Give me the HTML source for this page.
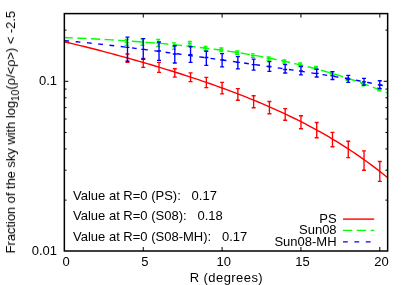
<!DOCTYPE html>
<html><head><meta charset="utf-8"><style>
html,body{margin:0;padding:0;background:#fff;}
svg{display:block;}
</style></head><body>
<svg width="407" height="285" viewBox="0 0 407 285">
<rect width="407" height="285" fill="#fff"/>
<path d="M127.48,54.00V62.40M125.48,54.00h4.0M125.48,62.40h4.0" stroke="#ff0000" stroke-width="1.35" fill="none"/>
<path d="M143.25,58.50V67.30M141.25,58.50h4.0M141.25,67.30h4.0" stroke="#ff0000" stroke-width="1.35" fill="none"/>
<path d="M159.02,62.30V72.30M157.02,62.30h4.0M157.02,72.30h4.0" stroke="#ff0000" stroke-width="1.35" fill="none"/>
<path d="M174.79,68.70V77.10M172.79,68.70h4.0M172.79,77.10h4.0" stroke="#ff0000" stroke-width="1.35" fill="none"/>
<path d="M190.56,72.80V81.60M188.56,72.80h4.0M188.56,81.60h4.0" stroke="#ff0000" stroke-width="1.35" fill="none"/>
<path d="M206.33,77.40V87.60M204.33,77.40h4.0M204.33,87.60h4.0" stroke="#ff0000" stroke-width="1.35" fill="none"/>
<path d="M222.10,82.40V93.80M220.10,82.40h4.0M220.10,93.80h4.0" stroke="#ff0000" stroke-width="1.35" fill="none"/>
<path d="M237.87,88.55V100.25M235.87,88.55h4.0M235.87,100.25h4.0" stroke="#ff0000" stroke-width="1.35" fill="none"/>
<path d="M253.64,95.70V107.70M251.64,95.70h4.0M251.64,107.70h4.0" stroke="#ff0000" stroke-width="1.35" fill="none"/>
<path d="M269.41,101.50V113.70M267.41,101.50h4.0M267.41,113.70h4.0" stroke="#ff0000" stroke-width="1.35" fill="none"/>
<path d="M285.18,108.60V120.20M283.18,108.60h4.0M283.18,120.20h4.0" stroke="#ff0000" stroke-width="1.35" fill="none"/>
<path d="M300.95,115.70V128.70M298.95,115.70h4.0M298.95,128.70h4.0" stroke="#ff0000" stroke-width="1.35" fill="none"/>
<path d="M316.72,122.50V137.70M314.72,122.50h4.0M314.72,137.70h4.0" stroke="#ff0000" stroke-width="1.35" fill="none"/>
<path d="M332.49,132.30V146.70M330.49,132.30h4.0M330.49,146.70h4.0" stroke="#ff0000" stroke-width="1.35" fill="none"/>
<path d="M348.26,141.20V157.60M346.26,141.20h4.0M346.26,157.60h4.0" stroke="#ff0000" stroke-width="1.35" fill="none"/>
<path d="M364.03,150.80V170.20M362.03,150.80h4.0M362.03,170.20h4.0" stroke="#ff0000" stroke-width="1.35" fill="none"/>
<path d="M379.80,161.50V181.30M377.80,161.50h4.0M377.80,181.30h4.0" stroke="#ff0000" stroke-width="1.35" fill="none"/>
<path d="M64.40,41.80 L68.34,42.72 L72.29,43.66 L76.23,44.60 L80.17,45.56 L84.11,46.54 L88.06,47.52 L92.00,48.52 L95.94,49.52 L99.88,50.54 L103.83,51.57 L107.77,52.62 L111.71,53.67 L115.65,54.73 L119.59,55.81 L123.54,56.89 L127.48,57.99 L131.42,59.10 L135.37,60.21 L139.31,61.34 L143.25,62.48 L147.19,63.63 L151.13,64.79 L155.08,65.97 L159.02,67.15 L162.96,68.35 L166.91,69.56 L170.85,70.78 L174.79,72.02 L178.73,73.26 L182.68,74.53 L186.62,75.80 L190.56,77.09 L194.50,78.39 L198.44,79.71 L202.39,81.05 L206.33,82.40 L210.27,83.77 L214.22,85.16 L218.16,86.56 L222.10,87.99 L226.04,89.43 L229.99,90.89 L233.93,92.38 L237.87,93.88 L241.81,95.41 L245.75,96.97 L249.70,98.54 L253.64,100.14 L257.58,101.77 L261.52,103.43 L265.47,105.11 L269.41,106.82 L273.35,108.56 L277.29,110.33 L281.24,112.14 L285.18,113.98 L289.12,115.85 L293.06,117.75 L297.01,119.70 L300.95,121.68 L304.89,123.70 L308.84,125.76 L312.78,127.87 L316.72,130.01 L320.66,132.20 L324.61,134.44 L328.55,136.72 L332.49,139.05 L336.43,141.44 L340.38,143.87 L344.32,146.36 L348.26,148.90 L352.20,151.50 L356.14,154.15 L360.09,156.87 L364.03,159.64 L367.97,162.48 L371.91,165.38 L375.86,168.35 L379.80,171.39 L383.74,174.50 L387.68,177.68" stroke="#ff0000" stroke-width="1.4" fill="none"/>
<path d="M126.68,39.50V45.50M124.68,39.50h4.0M124.68,45.50h4.0M124.68,42.50h4.0" stroke="#00ff00" stroke-width="1.35" fill="none"/>
<path d="M142.45,38.90V45.20M140.45,38.90h4.0M140.45,45.20h4.0M140.45,42.05h4.0" stroke="#00ff00" stroke-width="1.35" fill="none"/>
<path d="M158.22,39.50V46.50M156.22,39.50h4.0M156.22,46.50h4.0M156.22,43.00h4.0" stroke="#00ff00" stroke-width="1.35" fill="none"/>
<path d="M173.99,42.90V49.40M171.99,42.90h4.0M171.99,49.40h4.0M171.99,46.15h4.0" stroke="#00ff00" stroke-width="1.35" fill="none"/>
<path d="M189.76,41.30V45.20M187.76,41.30h4.0M187.76,45.20h4.0M187.76,43.25h4.0" stroke="#00ff00" stroke-width="1.35" fill="none"/>
<path d="M205.53,46.50V50.50M203.53,46.50h4.0M203.53,50.50h4.0M203.53,48.50h4.0" stroke="#00ff00" stroke-width="1.35" fill="none"/>
<path d="M221.30,48.00V51.50M219.30,48.00h4.0M219.30,51.50h4.0M219.30,49.75h4.0" stroke="#00ff00" stroke-width="1.35" fill="none"/>
<path d="M237.07,51.00V54.50M235.07,51.00h4.0M235.07,54.50h4.0M235.07,52.75h4.0" stroke="#00ff00" stroke-width="1.35" fill="none"/>
<path d="M252.84,53.90V57.40M250.84,53.90h4.0M250.84,57.40h4.0M250.84,55.65h4.0" stroke="#00ff00" stroke-width="1.35" fill="none"/>
<path d="M268.61,57.00V60.30M266.61,57.00h4.0M266.61,60.30h4.0M266.61,58.65h4.0" stroke="#00ff00" stroke-width="1.35" fill="none"/>
<path d="M284.38,60.00V63.20M282.38,60.00h4.0M282.38,63.20h4.0M282.38,61.60h4.0" stroke="#00ff00" stroke-width="1.35" fill="none"/>
<path d="M300.15,63.00V66.20M298.15,63.00h4.0M298.15,66.20h4.0M298.15,64.60h4.0" stroke="#00ff00" stroke-width="1.35" fill="none"/>
<path d="M315.92,66.30V69.20M313.92,66.30h4.0M313.92,69.20h4.0M313.92,67.75h4.0" stroke="#00ff00" stroke-width="1.35" fill="none"/>
<path d="M331.69,72.00V74.80M329.69,72.00h4.0M329.69,74.80h4.0M329.69,73.40h4.0" stroke="#00ff00" stroke-width="1.35" fill="none"/>
<path d="M347.46,77.60V80.40M345.46,77.60h4.0M345.46,80.40h4.0M345.46,79.00h4.0" stroke="#00ff00" stroke-width="1.35" fill="none"/>
<path d="M363.23,83.00V85.80M361.23,83.00h4.0M361.23,85.80h4.0M361.23,84.40h4.0" stroke="#00ff00" stroke-width="1.35" fill="none"/>
<path d="M379.00,88.00V90.80M377.00,88.00h4.0M377.00,90.80h4.0M377.00,89.40h4.0" stroke="#00ff00" stroke-width="1.35" fill="none"/>
<path d="M64.40,37.51 L68.34,37.68 L72.29,37.86 L76.23,38.04 L80.17,38.22 L84.11,38.41 L88.06,38.61 L92.00,38.81 L95.94,39.02 L99.88,39.23 L103.83,39.45 L107.77,39.67 L111.71,39.91 L115.65,40.14 L119.59,40.39 L123.54,40.64 L127.48,40.91 L131.42,41.17 L135.37,41.45 L139.31,41.74 L143.25,42.03 L147.19,42.34 L151.13,42.65 L155.08,42.97 L159.02,43.31 L162.96,43.65 L166.91,44.01 L170.85,44.37 L174.79,44.75 L178.73,45.14 L182.68,45.54 L186.62,45.95 L190.56,46.38 L194.50,46.82 L198.44,47.27 L202.39,47.74 L206.33,48.22 L210.27,48.71 L214.22,49.22 L218.16,49.75 L222.10,50.29 L226.04,50.85 L229.99,51.42 L233.93,52.01 L237.87,52.62 L241.81,53.25 L245.75,53.89 L249.70,54.55 L253.64,55.23 L257.58,55.93 L261.52,56.65 L265.47,57.40 L269.41,58.16 L273.35,58.94 L277.29,59.74 L281.24,60.57 L285.18,61.42 L289.12,62.29 L293.06,63.19 L297.01,64.11 L300.95,65.05 L304.89,66.02 L308.84,67.02 L312.78,68.04 L316.72,69.08 L320.66,70.16 L324.61,71.26 L328.55,72.39 L332.49,73.55 L336.43,74.73 L340.38,75.95 L344.32,77.20 L348.26,78.47 L352.20,79.78 L356.14,81.12 L360.09,82.50 L364.03,83.90 L367.97,85.34 L371.91,86.81 L375.86,88.32 L379.80,89.86 L383.74,91.44 L387.68,93.06" stroke="#00ff00" stroke-width="1.4" fill="none" stroke-dasharray="9.25,4.43" stroke-dashoffset="0.8"/>
<path d="M127.48,37.10V61.20M125.48,37.10h4.0M125.48,61.20h4.0M125.48,47.40h4.0" stroke="#0000ff" stroke-width="1.35" fill="none"/>
<path d="M143.25,38.60V59.20M141.25,38.60h4.0M141.25,59.20h4.0M141.25,49.40h4.0" stroke="#0000ff" stroke-width="1.35" fill="none"/>
<path d="M159.02,42.00V60.40M157.02,42.00h4.0M157.02,60.40h4.0M157.02,51.00h4.0" stroke="#0000ff" stroke-width="1.35" fill="none"/>
<path d="M174.79,45.70V63.00M172.79,45.70h4.0M172.79,63.00h4.0M172.79,54.00h4.0" stroke="#0000ff" stroke-width="1.35" fill="none"/>
<path d="M190.56,46.70V62.40M188.56,46.70h4.0M188.56,62.40h4.0M188.56,54.60h4.0" stroke="#0000ff" stroke-width="1.35" fill="none"/>
<path d="M206.33,51.20V65.40M204.33,51.20h4.0M204.33,65.40h4.0M204.33,57.50h4.0" stroke="#0000ff" stroke-width="1.35" fill="none"/>
<path d="M222.10,53.60V66.90M220.10,53.60h4.0M220.10,66.90h4.0M220.10,59.90h4.0" stroke="#0000ff" stroke-width="1.35" fill="none"/>
<path d="M237.87,56.60V68.80M235.87,56.60h4.0M235.87,68.80h4.0M235.87,62.40h4.0" stroke="#0000ff" stroke-width="1.35" fill="none"/>
<path d="M253.64,59.10V70.10M251.64,59.10h4.0M251.64,70.10h4.0M251.64,64.60h4.0" stroke="#0000ff" stroke-width="1.35" fill="none"/>
<path d="M269.41,61.60V71.40M267.41,61.60h4.0M267.41,71.40h4.0M267.41,66.50h4.0" stroke="#0000ff" stroke-width="1.35" fill="none"/>
<path d="M285.18,64.60V73.00M283.18,64.60h4.0M283.18,73.00h4.0M283.18,69.50h4.0" stroke="#0000ff" stroke-width="1.35" fill="none"/>
<path d="M300.95,66.50V74.80M298.95,66.50h4.0M298.95,74.80h4.0M298.95,71.00h4.0" stroke="#0000ff" stroke-width="1.35" fill="none"/>
<path d="M316.72,69.20V77.00M314.72,69.20h4.0M314.72,77.00h4.0M314.72,73.30h4.0" stroke="#0000ff" stroke-width="1.35" fill="none"/>
<path d="M332.49,71.60V79.50M330.49,71.60h4.0M330.49,79.50h4.0M330.49,75.80h4.0" stroke="#0000ff" stroke-width="1.35" fill="none"/>
<path d="M348.26,75.30V82.40M346.26,75.30h4.0M346.26,82.40h4.0M346.26,79.00h4.0" stroke="#0000ff" stroke-width="1.35" fill="none"/>
<path d="M364.03,78.30V85.10M362.03,78.30h4.0M362.03,85.10h4.0M362.03,81.90h4.0" stroke="#0000ff" stroke-width="1.35" fill="none"/>
<path d="M379.80,80.70V88.60M377.80,80.70h4.0M377.80,88.60h4.0M377.80,84.90h4.0" stroke="#0000ff" stroke-width="1.35" fill="none"/>
<path d="M64.40,40.74 L68.34,41.06 L72.29,41.40 L76.23,41.75 L80.17,42.11 L84.11,42.49 L88.06,42.89 L92.00,43.29 L95.94,43.70 L99.88,44.13 L103.83,44.56 L107.77,45.01 L111.71,45.46 L115.65,45.92 L119.59,46.39 L123.54,46.86 L127.48,47.35 L131.42,47.83 L135.37,48.33 L139.31,48.83 L143.25,49.33 L147.19,49.84 L151.13,50.35 L155.08,50.87 L159.02,51.39 L162.96,51.91 L166.91,52.44 L170.85,52.97 L174.79,53.50 L178.73,54.03 L182.68,54.57 L186.62,55.10 L190.56,55.64 L194.50,56.18 L198.44,56.72 L202.39,57.26 L206.33,57.81 L210.27,58.35 L214.22,58.90 L218.16,59.44 L222.10,59.99 L226.04,60.54 L229.99,61.08 L233.93,61.63 L237.87,62.18 L241.81,62.73 L245.75,63.29 L249.70,63.84 L253.64,64.40 L257.58,64.95 L261.52,65.51 L265.47,66.07 L269.41,66.64 L273.35,67.20 L277.29,67.77 L281.24,68.34 L285.18,68.92 L289.12,69.50 L293.06,70.08 L297.01,70.67 L300.95,71.26 L304.89,71.85 L308.84,72.46 L312.78,73.07 L316.72,73.68 L320.66,74.30 L324.61,74.93 L328.55,75.57 L332.49,76.22 L336.43,76.87 L340.38,77.54 L344.32,78.21 L348.26,78.90 L352.20,79.60 L356.14,80.31 L360.09,81.03 L364.03,81.77 L367.97,82.52 L371.91,83.29 L375.86,84.07 L379.80,84.87 L383.74,85.69 L387.68,86.52" stroke="#0000ff" stroke-width="1.4" fill="none" stroke-dasharray="4.75,6.57" stroke-dashoffset="0"/>
<path d="M143.25,251.0v-4M143.25,13.6v4M222.10,251.0v-4M222.10,13.6v4M300.95,251.0v-4M300.95,13.6v4M379.80,251.0v-4M379.80,13.6v4M64.35,81.30h4.0M387.65,81.30h-4.0M64.35,200.12h2.2M387.65,200.12h-2.2M64.35,170.19h2.2M387.65,170.19h-2.2M64.35,148.95h2.2M387.65,148.95h-2.2M64.35,132.48h2.2M387.65,132.48h-2.2M64.35,119.01h2.2M387.65,119.01h-2.2M64.35,107.63h2.2M387.65,107.63h-2.2M64.35,97.77h2.2M387.65,97.77h-2.2M64.35,89.08h2.2M387.65,89.08h-2.2M64.35,30.12h2.2M387.65,30.12h-2.2" stroke="#000" stroke-width="1" fill="none"/><rect x="64.35" y="13.6" width="323.29999999999995" height="237.4" fill="none" stroke="#000" stroke-width="1.5"/>

<g style="filter:grayscale(1)" font-family="Liberation Sans, sans-serif" font-size="13" fill="#000">
<text x="57.0" y="85.3" text-anchor="end">0.1</text>
<text x="57.0" y="255.1" text-anchor="end">0.01</text>
<text x="66.1" y="266.2" text-anchor="middle">0</text>
<text x="144.9" y="266.2" text-anchor="middle">5</text>
<text x="223.8" y="266.2" text-anchor="middle">10</text>
<text x="302.6" y="266.2" text-anchor="middle">15</text>
<text x="381.5" y="266.2" text-anchor="middle">20</text>
<text id="xl" x="226.2" y="282.2" text-anchor="middle" textLength="73" lengthAdjust="spacing">R (degrees)</text>
<text id="yl" transform="translate(15.0,132.2) rotate(-90)" text-anchor="middle" textLength="242.6" lengthAdjust="spacing">Fraction of the sky with log<tspan font-size="10.4" dy="3.5">10</tspan><tspan dy="-3.5">(ρ/&lt;ρ&gt;) &lt; -2.5</tspan></text>
<text id="t1" x="73" y="199.7" xml:space="preserve" style="white-space:pre">Value at R=0 (PS):   0.17</text>
<text id="t2" x="73" y="220.2" xml:space="preserve" style="white-space:pre">Value at R=0 (S08):   0.18</text>
<text id="t3" x="73" y="241" xml:space="preserve" style="white-space:pre">Value at R=0 (S08-MH):   0.17</text>
<text id="l1" x="336.6" y="222.9" text-anchor="end">PS</text>
<text id="l2" x="336.6" y="234.4" text-anchor="end">Sun08</text>
<text id="l3" x="336.6" y="245.9" text-anchor="end">Sun08-MH</text>
</g>
<path d="M343,219.1H374.2" stroke="#ff0000" stroke-width="1.4"/>
<path d="M343,230.4H374.2" stroke="#00ff00" stroke-width="1.4" stroke-dasharray="9.3,4.5"/>
<path d="M343,241.9H374.2" stroke="#0000ff" stroke-width="1.4" stroke-dasharray="4.8,6.6"/>

</svg></body></html>
